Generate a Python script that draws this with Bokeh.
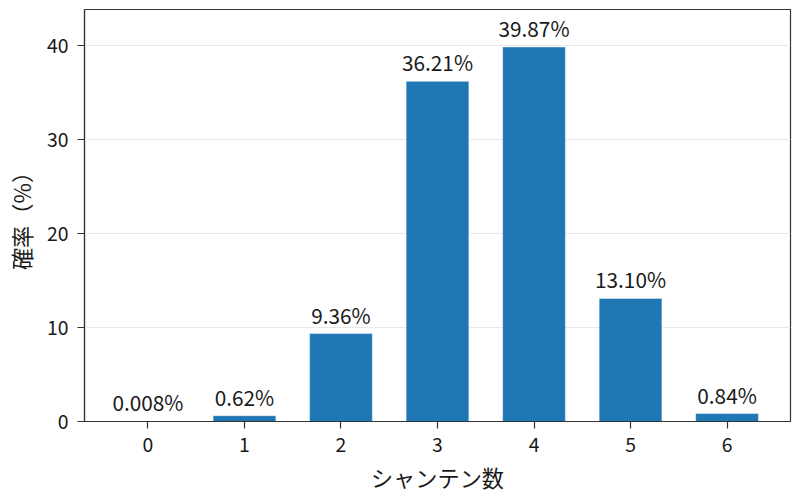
from bokeh.plotting import figure
from bokeh.models import ColumnDataSource, FixedTicker, Range1d
from bokeh.core.properties import value
from bokeh.embed import file_html
from bokeh.resources import INLINE

# data
shanten = [0, 1, 2, 3, 4, 5, 6]
percent = [0.008, 0.62, 9.36, 36.21, 39.87, 13.10, 0.84]
bar_labels = ["0.008%", "0.62%", "9.36%", "36.21%", "39.87%", "13.10%", "0.84%"]
y_ticks = [0, 10, 20, 30, 40]

FONT = "Noto Sans CJK JP"
BAR_W = 0.65

src = ColumnDataSource(dict(x=shanten, top=percent, label=bar_labels))

p = figure(
    width=792, height=496,
    min_border_left=84, min_border_right=2, min_border_top=9, min_border_bottom=75,
    x_range=Range1d(-0.6575, 6.6575),
    y_range=Range1d(0, 43.86),
    output_backend="svg", toolbar_location=None,
)
p.background_fill_color = "white"
p.border_fill_color = "white"
p.outline_line_color = "#333333"
p.outline_line_width = 1.2

p.vbar(x="x", top="top", width=BAR_W, source=src,
       fill_color="#1f77b4", line_color="white", line_width=0.7, line_alpha=0.6)

p.text(x="x", y="top", text="label", source=src,
       text_font=value(FONT), text_font_size="20.8px", text_color="#1a1a1a",
       text_align="center", text_baseline="bottom", y_offset=-4)

p.xgrid.visible = False
p.ygrid.grid_line_color = "#e8e8e8"
p.ygrid.grid_line_width = 1

p.xaxis.ticker = FixedTicker(ticks=shanten)
p.yaxis.ticker = FixedTicker(ticks=y_ticks)

for ax in (p.xaxis[0], p.yaxis[0]):
    ax.axis_line_color = "#333333"
    ax.axis_line_width = 1.2
    ax.major_tick_line_color = "#333333"
    ax.major_tick_line_width = 1.2
    ax.major_tick_out = 7
    ax.major_tick_in = 0
    ax.minor_tick_line_color = None
    ax.major_label_text_font = FONT
    ax.major_label_text_font_size = "19.4px"
    ax.major_label_text_color = "#1a1a1a"
    ax.axis_label_text_font = FONT
    ax.axis_label_text_font_size = "22.2px"
    ax.axis_label_text_font_style = "normal"
    ax.axis_label_text_color = "#1a1a1a"

p.xaxis.axis_label = "シャンテン数"
p.yaxis.axis_label = "確率（%）"
p.xaxis.major_label_standoff = 8
p.xaxis.axis_label_standoff = 6
p.yaxis.major_label_standoff = 9
p.yaxis.axis_label_standoff = 7

open("out.html", "w").write(file_html(p, INLINE))
